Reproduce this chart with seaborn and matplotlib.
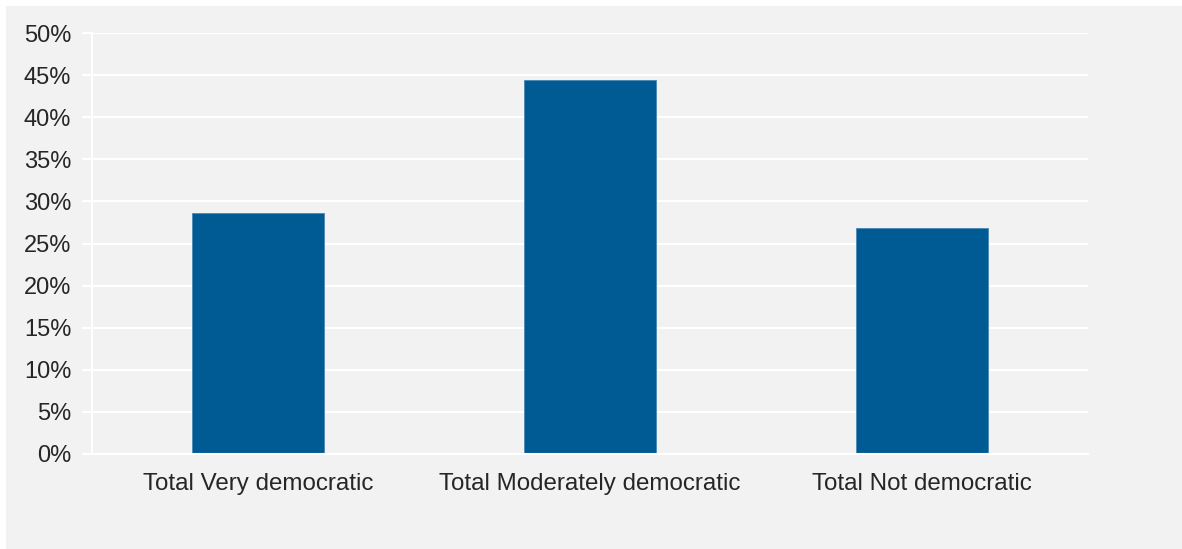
import matplotlib
matplotlib.use("Agg")
import matplotlib.pyplot as plt
import seaborn as sns
import pandas as pd
from matplotlib.ticker import PercentFormatter
from matplotlib.patches import Rectangle

categories = ["Total Very democratic", "Total Moderately democratic", "Total Not democratic"]
values = [28.6, 44.4, 26.9]
yticks = [0, 5, 10, 15, 20, 25, 30, 35, 40, 45, 50]

sns.set_theme(style="white")
plt.rcParams['font.family'] = ['Liberation Sans', 'DejaVu Sans']

df = pd.DataFrame({"cat": categories, "val": values})

fig = plt.figure(figsize=(11.82, 5.49), dpi=100, facecolor="white")
fig.patches.append(Rectangle((6/1182, 0), 1, 1 - 6/549, transform=fig.transFigure,
                             facecolor="#f2f2f2", edgecolor="none", zorder=-10))
ax = fig.add_axes([92/1182, 1 - 454/549, (1088 - 92)/1182, (454 - 33)/549])
ax.set_facecolor("#f2f2f2")

sns.barplot(data=df, x="cat", y="val", ax=ax, color="#005b94", width=0.4,
            edgecolor="#4a86b4", linewidth=0.6, saturation=1)

ax.set_ylim(0, 50)
ax.set_yticks(yticks)
ax.yaxis.set_major_formatter(PercentFormatter(decimals=0))
ax.grid(axis="y", color="white", linewidth=1.5)
ax.set_axisbelow(True)
for s in ["top", "right"]:
    ax.spines[s].set_visible(False)
ax.spines["left"].set_color("white")
ax.spines["bottom"].set_color("white")
ax.spines["left"].set_linewidth(1.5)
ax.spines["bottom"].set_linewidth(1.5)
ax.tick_params(axis="y", left=True, length=7, color="white", width=1.5,
               labelsize=17, labelcolor="#262626", pad=8)
ax.tick_params(axis="x", bottom=False, labelsize=17.4, labelcolor="#262626", pad=8)
ax.set_xlabel("")
ax.set_ylabel("")

fig.savefig("out.png", dpi=100, facecolor="white")
